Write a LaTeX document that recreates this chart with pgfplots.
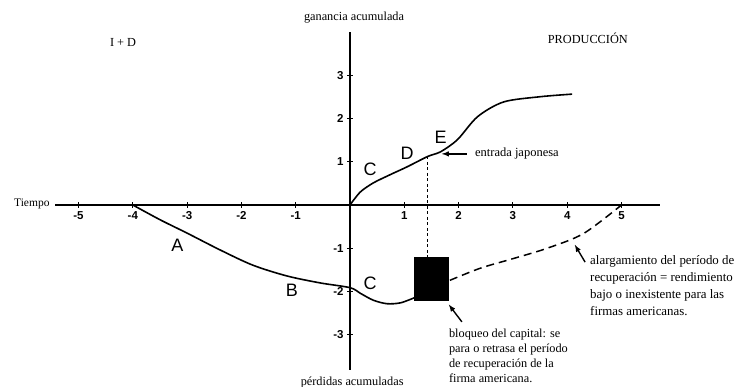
\documentclass[border=0pt]{standalone}
\usepackage{fontspec}
\setmainfont{Liberation Serif}
\setsansfont{Liberation Sans}
\usepackage{pgfplots}
\pgfplotsset{compat=1.18}
\begin{document}
\begin{tikzpicture}
\begin{axis}[x=54.3pt, y=43.3pt,
 xmin=-5.43, xmax=5.71, ymin=-3.81, ymax=4.0,
 axis lines=middle, axis line style={-, line width=1.1pt},
 xtick={-5,-4,-3,-2,-1,1,2,3,4,5}, xticklabels={-5,-4,-3,-2,-1,1,2,3,4,5},
 ytick={-3,-2,-1,1,2,3}, yticklabels={-3,-2,-1,1,2,3},
 tick align=center, major tick length=6pt, tick style={line width=1pt, black},
 tick label style={font=\fontsize{11.5}{13}\selectfont\sffamily\bfseries},
 clip=false]
% upper curve
\addplot[line width=1.6pt, smooth] coordinates {
(0,0) (0.19,0.3) (0.43,0.51) (0.74,0.7) (1.05,0.88) (1.43,1.12) (1.67,1.23) (1.98,1.51) (2.35,2.04) (2.83,2.38) (3.5,2.5) (4.09,2.56)};
% lower curve
\addplot[line width=1.6pt, smooth] coordinates {
(-4,0) (-3.5,-0.34) (-3.0,-0.65) (-2.39,-1.04) (-1.79,-1.39) (-1.16,-1.64) (-0.55,-1.80) (0,-1.91) (0.19,-2.04) (0.43,-2.2) (0.68,-2.28) (0.93,-2.26) (1.19,-2.14)};
% blocked capital box
\addplot[fill=black, draw=black] coordinates {(1.19,-1.21) (1.81,-1.21) (1.81,-2.21) (1.19,-2.21)} -- cycle;
% vertical dashed
\addplot[line width=0.9pt, dash pattern=on 3pt off 2.5pt] coordinates {(1.43,1.12) (1.43,-1.21)};
% dashed recovery
\addplot[line width=1.5pt, dash pattern=on 8pt off 5pt, smooth] coordinates {
(1.84,-1.74) (2.4,-1.46) (3.0,-1.24) (3.63,-1.0) (4.3,-0.66) (5,0)};
% arrows
\addplot[line width=1.4pt, -latex] coordinates {(2.15,1.18) (1.69,1.18)};
\addplot[line width=1.4pt, -latex] coordinates {(4.33,-1.32) (4.14,-0.92)};
\addplot[line width=1.4pt, -latex] coordinates {(2.06,-2.7) (1.82,-2.3)};
% letters
\node[font=\fontsize{18}{20}\selectfont\sffamily] at (axis cs:-3.18,-0.93) {A};
\node[font=\fontsize{18}{20}\selectfont\sffamily] at (axis cs:-1.07,-1.98) {B};
\node[font=\fontsize{18}{20}\selectfont\sffamily] at (axis cs:0.37,-1.8) {C};
\node[font=\fontsize{18}{20}\selectfont\sffamily] at (axis cs:0.37,0.83) {C};
\node[font=\fontsize{18}{20}\selectfont\sffamily] at (axis cs:1.05,1.2) {D};
\node[font=\fontsize{18}{20}\selectfont\sffamily] at (axis cs:1.67,1.57) {E};
\node[anchor=west, inner sep=0pt, font=\fontsize{12.5}{14}\selectfont] at (axis cs:2.3,1.18) {entrada japonesa};
\node[anchor=north west, inner sep=0pt, align=left, font=\fontsize{12.9}{17}\selectfont] at (axis cs:4.42,-1.16) {alargamiento del período de\\recuperación = rendimiento\\bajo o inexistente para las\\firmas americanas.};
\node[anchor=north west, inner sep=0pt, align=left, font=\fontsize{12.3}{15}\selectfont] at (axis cs:1.82,-2.86) {bloqueo del capital: se\\para o retrasa el período\\de recuperación de la\\firma americana.};
\node[font=\fontsize{12.3}{14}\selectfont] at (axis cs:0.074,4.32) {ganancia acumulada};
\node[font=\fontsize{12.3}{14}\selectfont] at (axis cs:-4.18,3.76) {I + D};
\node[font=\fontsize{12.3}{14}\selectfont] at (axis cs:4.38,3.86) {PRODUCCIÓN};
\node[font=\fontsize{11.5}{14}\selectfont] at (axis cs:-5.86,0.02) {Tiempo};
\node[font=\fontsize{12.3}{14}\selectfont] at (axis cs:0.04,-4.09) {pérdidas acumuladas};
\coordinate (BL) at (axis cs:-6.446,-4.203);
\coordinate (TR) at (axis cs:7.164,4.734);
\end{axis}
\pgfresetboundingbox
\path[use as bounding box] (BL) rectangle (TR);
\end{tikzpicture}
\end{document}
